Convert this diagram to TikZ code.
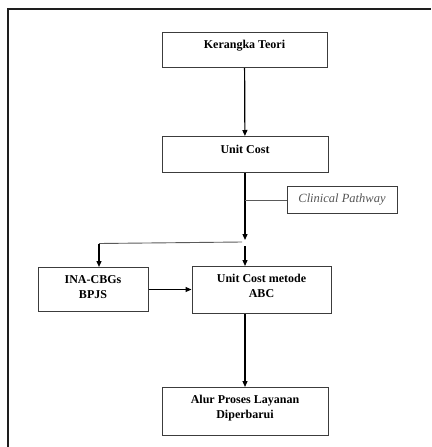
\documentclass[tikz,border=0pt]{standalone}
\usepackage{fontspec}
\setmainfont{Liberation Serif}
\usepackage{tikz}
\usetikzlibrary{arrows.meta}
\definecolor{framegray}{RGB}{30, 30, 30}
\definecolor{boxgray}{RGB}{60, 60, 60}
\definecolor{linegray}{RGB}{90, 90, 90}
\definecolor{notegray}{RGB}{85, 85, 85}

\begin{document}
\begin{tikzpicture}[
        x=1pt, y=-1pt,
        box/.style={rectangle, draw=boxgray, line width=1pt, inner xsep=2pt, inner ysep=0pt, align=center, anchor=north, font=\fontsize{12}{15}\selectfont\bfseries},
        note/.style={rectangle, draw=boxgray, line width=1pt, inner xsep=2pt, inner ysep=0pt, anchor=north, text=notegray, font=\fontsize{12.5}{15}\selectfont\itshape},
        flow/.style={-{Triangle[length=6pt, width=5pt]}, line width=1.2pt, draw=black},
        thin/.style={line width=0.9pt, draw=linegray}
    ]
    \useasboundingbox (0,0) rectangle (431,447);

    % Outer frame
    \draw[line width=2pt, framegray] (7.5,447) -- (7.5,8.5) -- (431,8.5);

    % Main boxes
    \node[box, minimum width=165pt, text height=16pt, text depth=19pt] (teori) at (244.5,32) {Kerangka Teori};
    \node[box, minimum width=166pt, text height=16.7pt, text depth=19.3pt] (unitcost) at (245,136) {Unit Cost};
    \node[note, minimum width=110pt, text height=15.7pt, text depth=11.3pt] (clinical) at (342,186) {Clinical Pathway};
    \node[box, minimum width=110pt, text height=31pt, text depth=13pt] (inacbg) at (93,267) {INA-CBGs\\ BPJS};
    \node[box, minimum width=139pt, text height=30.7pt, text depth=16.3pt] (abc) at (261.5,266) {Unit Cost metode\\ ABC};
    \node[box, minimum width=166pt, text height=31pt, text depth=17pt] (alur) at (245,387) {Alur Proses Layanan\\ Diperbarui};

    % Split points
    \coordinate (split) at (245,240);
    \coordinate (splitleft) at (99,243.5);
    \coordinate (splitright) at (242,242);

    % Flows
    \draw[flow] (teori) -- (unitcost);
    \draw[flow] (unitcost.south) -- (split);
    \draw[thin] (clinical.west) -- (unitcost.south |- clinical.west);
    \draw[thin] (splitright) -- (splitleft);
    \draw[flow] (splitleft) -- (splitleft |- inacbg.north);
    \draw[flow] (245,246) -- (unitcost.south |- abc.north);
    \draw[flow, line width=1pt] (inacbg.east) -- (inacbg.east -| abc.west);
    \draw[flow] (unitcost.south |- abc.south) -- (alur.north);

\end{tikzpicture}
\end{document}
